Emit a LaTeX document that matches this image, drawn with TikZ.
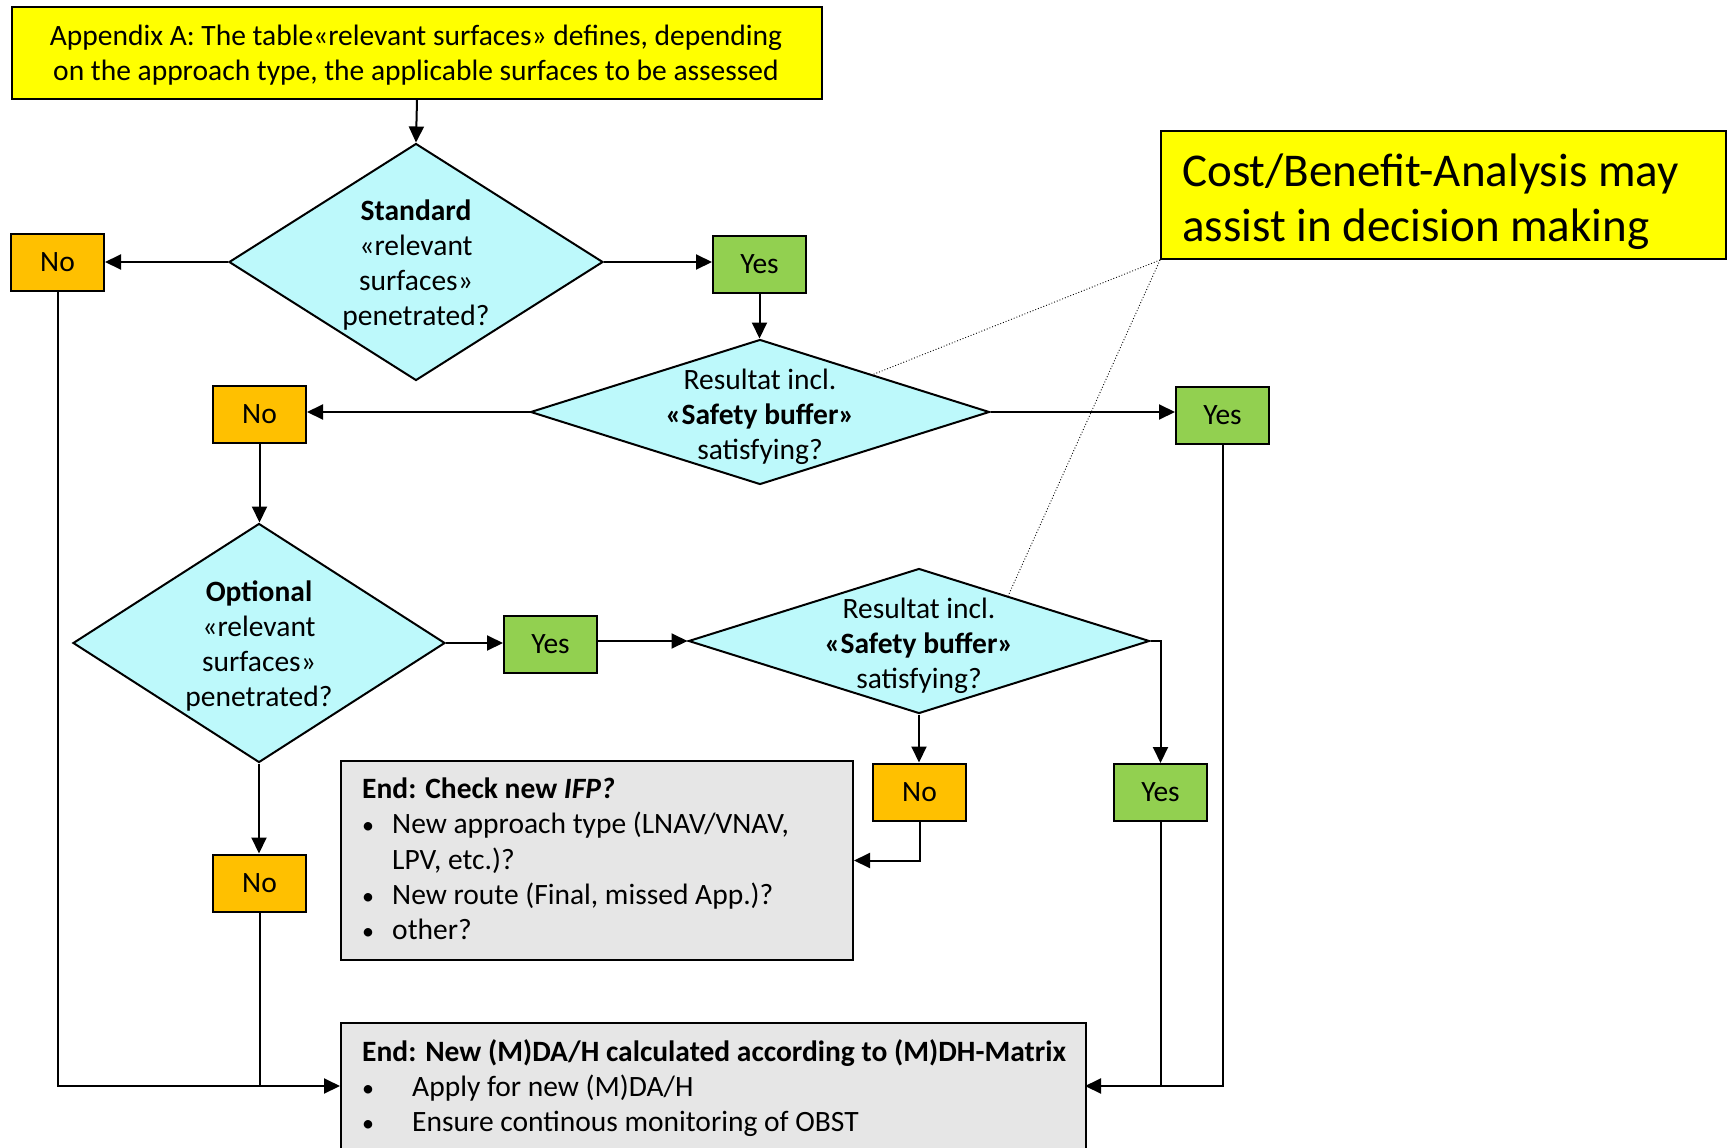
\documentclass[tikz,border=0pt]{standalone}
\usepackage{fontspec}
\setmainfont{Carlito}
\usetikzlibrary{shapes.geometric,arrows.meta,calc}
\definecolor{yel}{HTML}{FFFF00}
\definecolor{cya}{HTML}{BDF9FB}
\definecolor{ora}{HTML}{FFC000}
\definecolor{grn}{HTML}{92D050}
\definecolor{gry}{HTML}{E6E6E6}
\newcommand{\fs}{\fontsize{29.5}{35}\selectfont}
\begin{document}
\begin{tikzpicture}[x=1pt,y=-1pt,
 box/.style={draw, line width=2pt, minimum width=93pt, minimum height=57pt, inner sep=0pt, font=\fs},
 nobox/.style={box, fill=ora},
 yesbox/.style={box, fill=grn},
 bigbox/.style={draw, line width=2pt, inner sep=0pt, anchor=north west},
 dia/.style={draw, diamond, fill=cya, line width=2pt, inner sep=0pt},
 txt/.style={font=\fs, inner sep=0pt, anchor=base},
 btxt/.style={txt, font=\fs\bfseries},
 ltxt/.style={txt, anchor=base west},
 lbtxt/.style={ltxt, font=\fs\bfseries},
 bul/.style={ltxt, font=\fontsize{24}{30}\selectfont},
 conn/.style={line width=2pt, -{Triangle[length=16pt,width=15pt]}},
 link/.style={line width=2pt},
 note/.style={dotted, line width=0.9pt}]
\clip (0,0) rectangle (1733,1148);
\fill[white] (0,0) rectangle (1733,1148);

% boxes
\node[bigbox, fill=yel, minimum width=810pt, minimum height=92pt] (top) at (11,6) {};
\node[bigbox, fill=yel, minimum width=565pt, minimum height=128pt] (cost) at (1160,130) {};
\node[bigbox, fill=gry, minimum width=512pt, minimum height=199pt] (ifp) at (340,760) {};
\node[bigbox, fill=gry, minimum width=745pt, minimum height=220pt] (fin) at (340,1022) {};

% diamonds
\node[dia, minimum width=374pt, minimum height=237pt] (d1) at (416,262) {};
\node[dia, minimum width=459pt, minimum height=145pt] (d2) at (760,412) {};
\node[dia, minimum width=372pt, minimum height=239pt] (d3) at (259,643) {};
\node[dia, minimum width=461pt, minimum height=145pt] (d4) at (919,641) {};

% yes/no boxes
\node[nobox] (n1) at (57.5,262.5) {No};
\node[yesbox] (y1) at (759.5,264.5) {Yes};
\node[nobox] (n2) at (259.5,414) {No};
\node[yesbox] (y2) at (1222.5,415) {Yes};
\node[yesbox] (y3) at (550.5,644.5) {Yes};
\node[nobox] (n4) at (919.5,792) {No};
\node[yesbox] (y4) at (1160.5,792.5) {Yes};
\node[nobox] (n3) at (259.5,883) {No};

% texts
\node[txt] (t1) at (416,46) {Appendix A: The table«relevant surfaces» defines, depending};
\node[txt] (t2) at (416,81) {on the approach type, the applicable surfaces to be assessed};
\node[ltxt, font=\fontsize{47}{55}\selectfont] (c1) at (1182,186) {Cost/Benefit-Analysis may};
\node[ltxt, font=\fontsize{47}{55}\selectfont] (c2) at (1182,241) {assist in decision making};

\node[btxt] (a1) at (416,220) {Standard};
\node[txt] (a2) at (416,255) {«relevant};
\node[txt] (a3) at (416,290) {surfaces»};
\node[txt] (a4) at (416,325) {penetrated?};

\node[txt] (b1) at (760,389) {Resultat incl.};
\node[btxt] (b2) at (760,424) {«Safety buffer»};
\node[txt] (b3) at (760,459) {satisfying?};

\node[btxt] (o1) at (259,601) {Optional};
\node[txt] (o2) at (259,636) {«relevant};
\node[txt] (o3) at (259,671) {surfaces»};
\node[txt] (o4) at (259,706) {penetrated?};

\node[txt] (e1) at (919,618) {Resultat incl.};
\node[btxt] (e2) at (919,653) {«Safety buffer»};
\node[txt] (e3) at (919,688) {satisfying?};

\node[lbtxt] (i0) at (362,798) {End: Check new \textit{IFP?}};
\node[bul] (ib1) at (362,833) {•};
\node[ltxt] (i1) at (392,833) {New approach type (LNAV/VNAV,};
\node[ltxt] (i2) at (392,869) {LPV, etc.)?};
\node[bul] (ib3) at (362,904) {•};
\node[ltxt] (i3) at (392,904) {New route (Final, missed App.)?};
\node[bul] (ib4) at (362,939) {•};
\node[ltxt] (i4) at (392,939) {other?};

\node[lbtxt] (f0) at (362,1061) {End: New (M)DA/H calculated according to (M)DH-Matrix};
\node[bul] (fb1) at (362,1096) {•};
\node[ltxt] (f1) at (412,1096) {Apply for new (M)DA/H};
\node[bul] (fb2) at (362,1131) {•};
\node[ltxt] (f2) at (412,1131) {Ensure continous monitoring of OBST};

% join coordinates
\coordinate (jl) at (340,1086);
\coordinate (jr) at (1085,1086);
\coordinate (p2) at ($(d2.north)!0.49!(d2.east)$);
\coordinate (p4) at ($(d4.north)!0.385!(d4.east)$);

% connectors
\draw[conn] (top.south) -- (d1.north);
\draw[conn] (d1.west) -- (d1.west -| n1.east);
\draw[conn] (d1.east) -- (d1.east -| y1.west);
\draw[conn] (y1.south) -- (y1.south |- d2.north);
\draw[conn] (d2.west) -- (d2.west -| n2.east);
\draw[conn] (d2.east) -- (d2.east -| y2.west);
\draw[conn] (n2.south) -- (n2.south |- d3.north);
\draw[conn] (d3.east) -- (d3.east -| y3.west);
\draw[conn] (d4.west -| y3.east) -- (d4.west);
\draw[conn] (d4.south) -- (d4.south |- n4.north);
\draw[conn] (d4.east) -| (y4.north);
\draw[conn] (n4.south) |- (ifp.east);
\draw[conn] (d3.south) -- (d3.south |- n3.north);
\draw[conn] (n1.south) |- (jl);
\draw[link] (n3.south) -- (n3.south |- jl);
\draw[conn] (y2.south) |- (jr);
\draw[link] (y4.south) -- (y4.south |- jr);

% notes
\draw[note] (cost.south west) -- (p2);
\draw[note] (cost.south west) -- (p4);
\end{tikzpicture}
\end{document}
